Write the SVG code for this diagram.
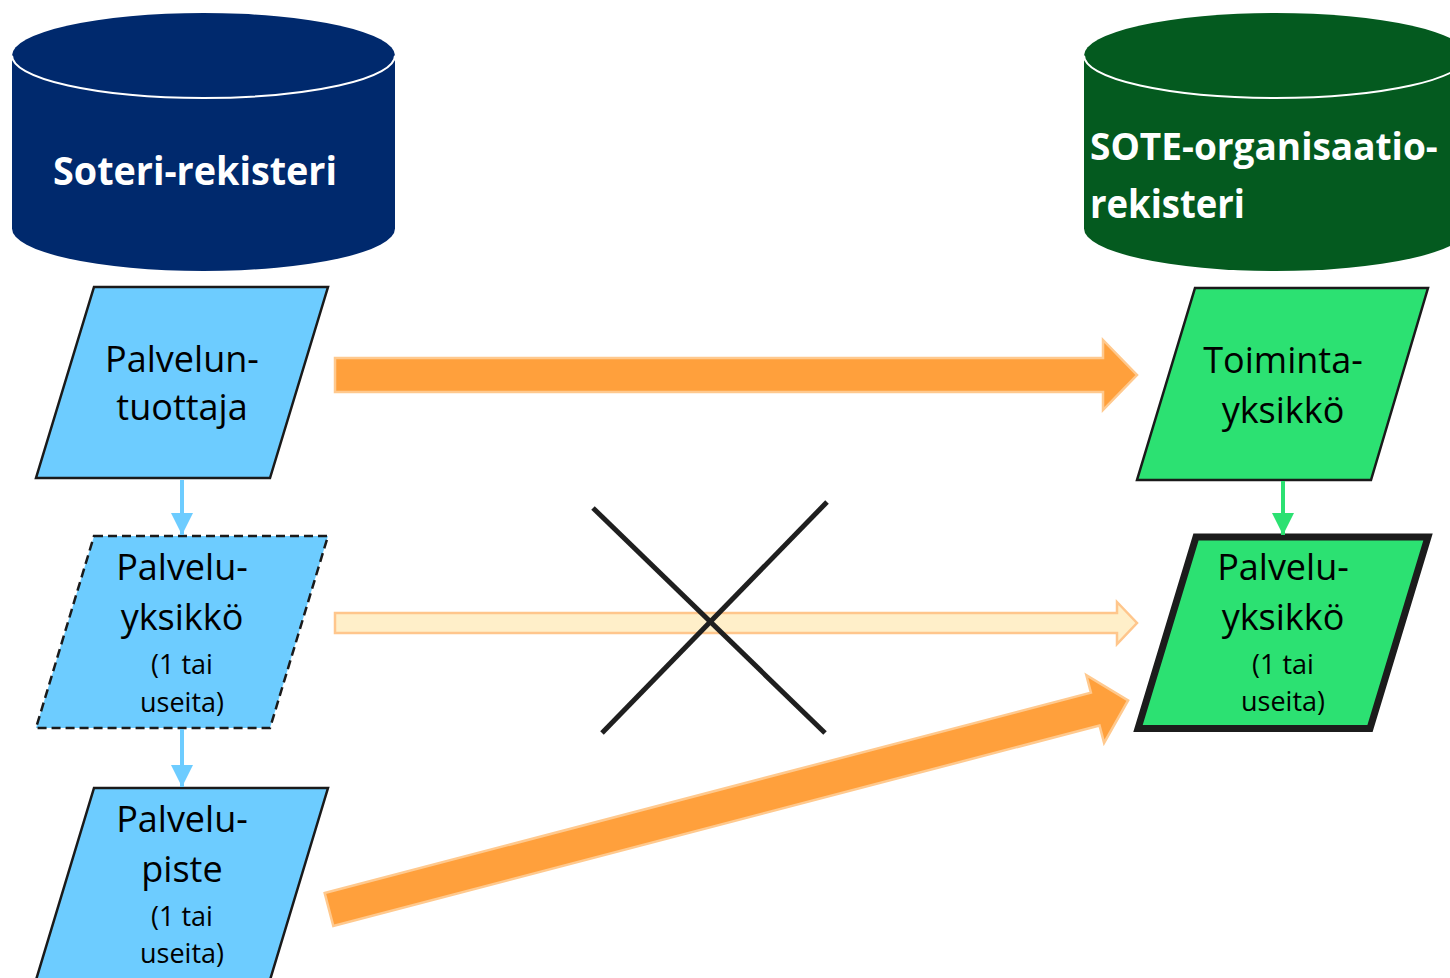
<svg xmlns="http://www.w3.org/2000/svg" width="1450" height="978" viewBox="0 0 1450 978">
  <defs>
    <style>
      .lbl { font-family: "Open Sans", "Noto Sans", "Liberation Sans", sans-serif; font-size: 36px; text-anchor: middle; fill: #000; }
      .sm { font-size: 27px; }
      .cyl { font-family: "Open Sans", "Noto Sans", "Liberation Sans", sans-serif; font-size: 40px; font-weight: bold; fill: #fff; }
      .blue { fill: #6DCCFF; stroke: #1a1a1a; stroke-width: 2.5; }
      .green { fill: #2CE172; stroke: #1a1a1a; stroke-width: 2.5; }
      .rim { fill: none; stroke: #ffffff; stroke-width: 2; }
      .orange { fill: #FFA03C; stroke: #FFC98E; stroke-width: 2.5; }
      .pale { fill: #FFEFC9; stroke: #FFC68C; stroke-width: 2.5; }
      .cross { stroke: #1f1f1f; stroke-width: 5; fill: none; }
    </style>
    <marker id="headBlue" markerUnits="userSpaceOnUse" markerWidth="22" markerHeight="22" refX="22" refY="11" orient="auto">
      <path d="M0,0 L22,11 L0,22 Z" fill="#6DCCFF"/>
    </marker>
    <marker id="headGreen" markerUnits="userSpaceOnUse" markerWidth="22" markerHeight="22" refX="22" refY="11" orient="auto">
      <path d="M0,0 L22,11 L0,22 Z" fill="#2CE172"/>
    </marker>
  </defs>

  <rect width="1450" height="978" fill="#ffffff"/>

  <g id="soteri-rekisteri">
    <path d="M12,55.5 A191.5,42.5 0 0 1 395,55.5 V228.5 A191.5,42.5 0 0 1 12,228.5 Z" fill="#00296D"/>
    <path class="rim" d="M12,55.5 A191.5,42.5 0 0 0 395,55.5"/>
    <text class="cyl" x="53" y="185" textLength="284" lengthAdjust="spacingAndGlyphs">Soteri-rekisteri</text>
  </g>

  <g id="sote-organisaatiorekisteri">
    <path d="M1084,55.5 A191.5,42.5 0 0 1 1467,55.5 V228.5 A191.5,42.5 0 0 1 1084,228.5 Z" fill="#045A1F"/>
    <path class="rim" d="M1084,55.5 A191.5,42.5 0 0 0 1467,55.5"/>
    <text class="cyl" x="1090" y="160" style="font-size:37px">SOTE-organisaatio-</text>
    <text class="cyl" x="1090" y="218" textLength="155" lengthAdjust="spacingAndGlyphs">rekisteri</text>
  </g>

  <g id="palveluntuottaja">
    <polygon class="blue" points="94,287 328,287 270,478 36,478"/>
    <text class="lbl" x="182" y="372">Palvelun-</text>
    <text class="lbl" x="182" y="420">tuottaja</text>
  </g>

  <g id="palveluyksikko-left">
    <polygon class="blue" points="94,536 328,536 270,728 36,728" stroke-dasharray="9,5"/>
    <text class="lbl" x="182" y="580">Palvelu-</text>
    <text class="lbl" x="182" y="630">yksikkö</text>
    <text class="lbl sm" x="182" y="674">(1 tai</text>
    <text class="lbl sm" x="182" y="712">useita)</text>
  </g>

  <g id="palvelupiste">
    <polygon class="blue" points="94,788 328,788 270,980 36,980"/>
    <text class="lbl" x="182" y="832">Palvelu-</text>
    <text class="lbl" x="182" y="882">piste</text>
    <text class="lbl sm" x="182" y="926">(1 tai</text>
    <text class="lbl sm" x="182" y="963">useita)</text>
  </g>

  <g id="toimintayksikko">
    <polygon class="green" points="1195,288 1428,288 1371,480 1137,480"/>
    <text class="lbl" x="1283" y="373" fill="#1a1a1a">Toiminta-</text>
    <text class="lbl" x="1283" y="423" fill="#1a1a1a">yksikkö</text>
  </g>

  <g id="palveluyksikko-right">
    <polygon points="1196,537 1428,537 1370,728.5 1138,728.5" fill="#2CE172" stroke="#1c1c1c" stroke-width="7" stroke-linejoin="miter"/>
    <text class="lbl" x="1283" y="580">Palvelu-</text>
    <text class="lbl" x="1283" y="630">yksikkö</text>
    <text class="lbl sm" x="1283" y="674">(1 tai</text>
    <text class="lbl sm" x="1283" y="711">useita)</text>
  </g>

  <g id="connectors">
    <line x1="182" y1="480" x2="182" y2="535" stroke="#6DCCFF" stroke-width="4" marker-end="url(#headBlue)"/>
    <line x1="182" y1="729" x2="182" y2="787" stroke="#6DCCFF" stroke-width="4" marker-end="url(#headBlue)"/>
    <line x1="1283" y1="481" x2="1283" y2="535" stroke="#2CE172" stroke-width="4" marker-end="url(#headGreen)"/>
    <path class="orange" transform="translate(335,375)" d="M0,-17 H768 V-35 L802,0 L768,35 V17 H0 Z"/>
    <path class="pale" transform="translate(335,623)" d="M0,-10 H782 V-21 L802,0 L782,21 V10 H0 Z"/>
    <path class="orange" transform="translate(329,909.5) rotate(-14.66)" d="M0,-17 H792 V-35 L826,0 L792,35 V17 H0 Z"/>
  </g>

  <g id="cross">
    <line class="cross" x1="593" y1="508" x2="825" y2="733"/>
    <line class="cross" x1="827" y1="502" x2="602" y2="733"/>
  </g>
</svg>
